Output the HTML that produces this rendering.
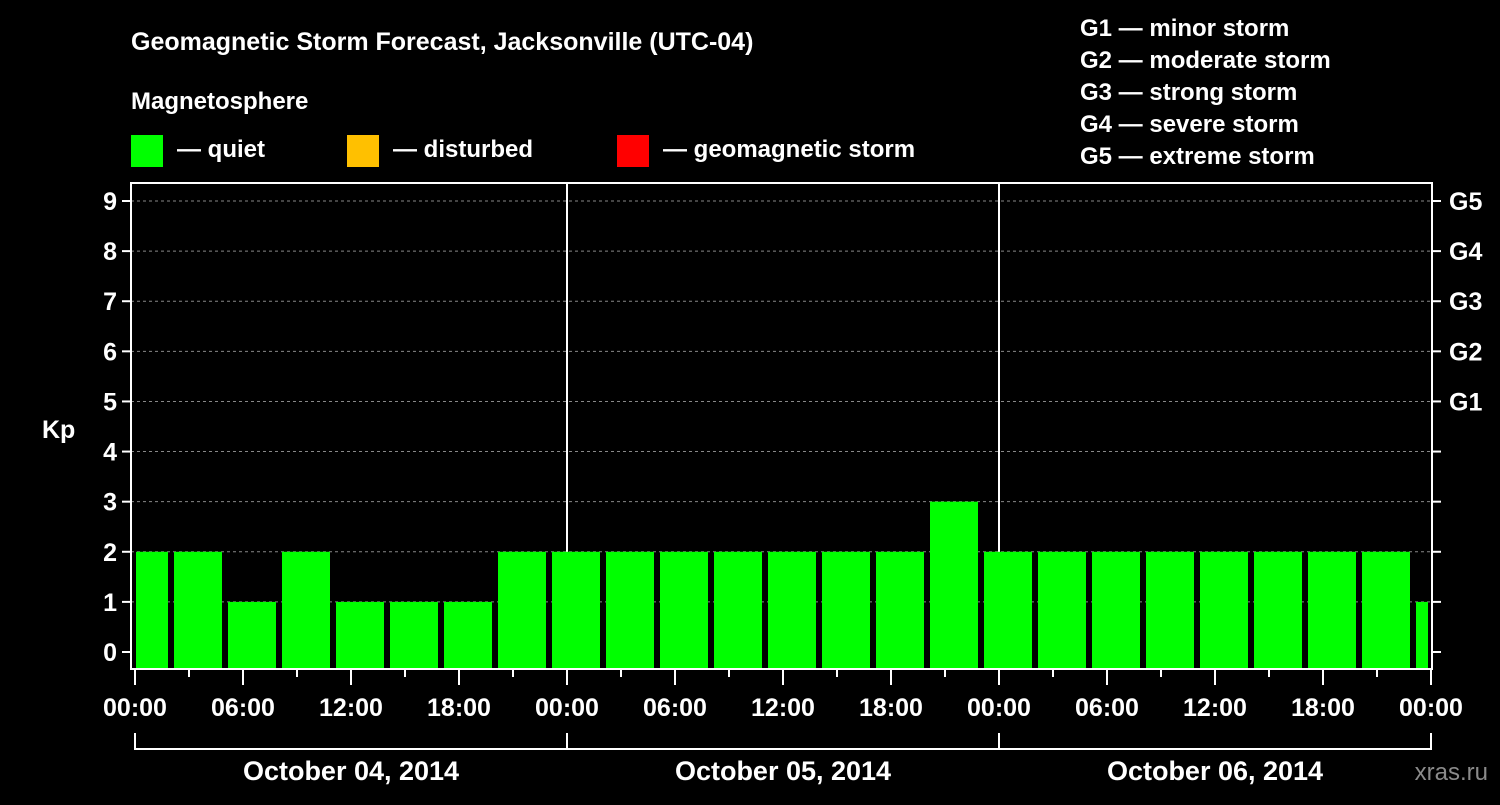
<!DOCTYPE html>
<html><head><meta charset="utf-8"><style>
body{margin:0;background:#000;width:1500px;height:800px;overflow:hidden}
svg text{font-family:"Liberation Sans",sans-serif;font-weight:bold;fill:#fff}
</style></head><body>
<svg id="c" width="1500" height="800" xmlns="http://www.w3.org/2000/svg">
<text x="131" y="50" font-size="25">Geomagnetic Storm Forecast, Jacksonville (UTC-04)</text>
<text x="131" y="109" font-size="24">Magnetosphere</text>
<rect x="131" y="135" width="32" height="32" fill="#00ff00"/>
<text x="177" y="157" font-size="24">— quiet</text>
<rect x="347" y="135" width="32" height="32" fill="#ffc000"/>
<text x="393" y="157" font-size="24">— disturbed</text>
<rect x="617" y="135" width="32" height="32" fill="#ff0000"/>
<text x="663" y="157" font-size="24">— geomagnetic storm</text>
<g font-size="24">
<text x="1080" y="36">G1 — minor storm</text>
<text x="1080" y="68">G2 — moderate storm</text>
<text x="1080" y="100">G3 — strong storm</text>
<text x="1080" y="132">G4 — severe storm</text>
<text x="1080" y="164">G5 — extreme storm</text>
</g>
<text x="42" y="438" font-size="25">Kp</text>
<text x="1488" y="780" font-size="24" text-anchor="end" fill="#888" style="fill:#8a8a8a;font-weight:normal">xras.ru</text>
<g id="grid"></g><g id="bars"></g><g id="axes"></g>
</svg>
<script>
const kpValues=[2,2,1,2,1,1,1,2,2,2,2,2,2,2,2,3,2,2,2,2,2,2,2,2,1];
const barStartHours=[-1,2,5,8,11,14,17,20,23,26,29,32,35,38,41,44,47,50,53,56,59,62,65,68,71];
const yTicks=[0,1,2,3,4,5,6,7,8,9];
const gLabels=["G1","G2","G3","G4","G5"];
const gLevels=[5,6,7,8,9];
const xTickLabels=["00:00","06:00","12:00","18:00","00:00","06:00","12:00","18:00","00:00","06:00","12:00","18:00","00:00"];
const dates=["October 04, 2014","October 05, 2014","October 06, 2014"];
const NS="http://www.w3.org/2000/svg";
const L=131,R=1432,T=183,B=669,X0=135,HOURS=72;
const x=h=>X0+h*(1431-X0)/HOURS;
const y=v=>652-v*(652-201)/9;
function mk(tag,attrs,parent,txt){const e=document.createElementNS(NS,tag);for(const k in attrs)e.setAttribute(k,attrs[k]);if(txt!==undefined)e.textContent=txt;document.getElementById(parent).appendChild(e);return e;}
yTicks.forEach(v=>{
 if(v>0){const g=mk('line',{x1:L,x2:R,y1:y(v),y2:y(v),stroke:'#888','stroke-dasharray':'3,3','stroke-width':1},'grid');
 
 }
 const t=mk('line',{x1:L-9,x2:L,y1:y(v),y2:y(v),stroke:'#fff','stroke-width':2},'axes');
 
 
 const t2=mk('line',{x1:R,x2:R+9,y1:y(v),y2:y(v),stroke:'#fff','stroke-width':2},'axes');
 
 
 const lb=mk('text',{x:L-14,y:y(v)+9,'font-size':25,'text-anchor':'end'},'axes',String(v));
 
 
});
gLevels.forEach((v,i)=>{
 const lb=mk('text',{x:R+17,y:y(v)+9,'font-size':25},'axes',gLabels[i]);
 
 
});
[24,48].forEach(h=>{
 const d=mk('line',{x1:x(h),x2:x(h),y1:T,y2:B,stroke:'#fff','stroke-width':2},'grid');
 
 
});
kpValues.forEach((v,i)=>{
 let a=x(barStartHours[i])+3,b=x(barStartHours[i]+3)-3;
 a=Math.max(a,x(0)+1);b=Math.min(b,x(HOURS)-3);
 const r=mk('rect',{x:a,y:y(v),width:b-a,height:B-1-y(v),fill:'#00ff00'},'bars');
 
 
});
const fr=mk('path',{d:`M${L} ${T}H${R}V${B}H${L}Z`,fill:'none',stroke:'#fff','stroke-width':2},'axes');


for(let h=0;h<=HOURS;h+=3){
 const major=h%6===0;
 const t=mk('line',{x1:x(h),x2:x(h),y1:B,y2:B+(major?16:8),stroke:'#fff','stroke-width':2},'axes');
 
 
}
xTickLabels.forEach((s,i)=>{
 const lb=mk('text',{x:x(i*6),y:716,'font-size':25,'text-anchor':'middle'},'axes',s);
 
 
});
const br=mk('path',{d:`M${x(0)} 733V749H${x(72)}V733M${x(24)} 733V749M${x(48)} 733V749`,fill:'none',stroke:'#fff','stroke-width':2},'axes');


dates.forEach((d,i)=>{
 const lb=mk('text',{x:x(i*24+12),y:780,'font-size':27,'text-anchor':'middle'},'axes',d);
 
 
});
</script>
</body></html>
